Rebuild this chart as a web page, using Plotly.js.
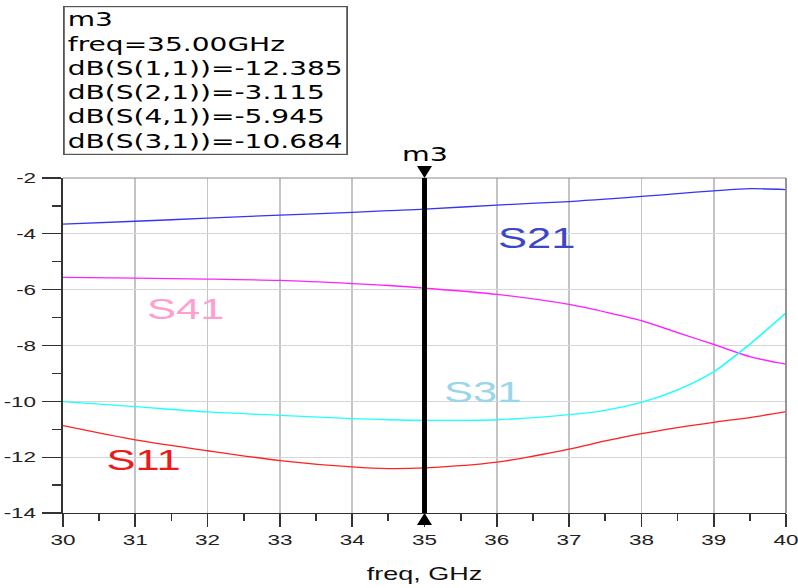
<!DOCTYPE html>
<html>
<head>
<meta charset="utf-8">
<script src="https://cdn.plot.ly/plotly-3.0.1.min.js"></script>
<style>
  html, body { margin: 0; padding: 0; background: #fff; overflow: hidden; }
  #wrap { width: 798px; height: 588px; overflow: hidden; }
  #chart { width: 532px; height: 588px; transform: scaleX(1.5); transform-origin: 0 0; }
</style>
</head>
<body>
<div id="wrap"><div id="chart"></div></div>
<script>
// ---- data ----
const freq = [30, 31, 32, 33, 34, 34.5, 35, 36, 37, 37.5, 38, 38.5, 39, 39.5, 40];
const s21  = [-3.655, -3.55, -3.44, -3.33, -3.23, -3.17, -3.115, -2.97, -2.845, -2.76, -2.66, -2.56, -2.46, -2.38, -2.415];
const s41  = [-5.56, -5.59, -5.62, -5.67, -5.78, -5.85, -5.945, -6.17, -6.53, -6.80, -7.11, -7.54, -7.96, -8.40, -8.67];
const s31  = [-10.01, -10.19, -10.38, -10.50, -10.62, -10.66, -10.684, -10.66, -10.48, -10.32, -10.04, -9.59, -8.94, -7.95, -6.83];
const s11  = [-10.87, -11.38, -11.77, -12.12, -12.35, -12.41, -12.385, -12.18, -11.71, -11.42, -11.16, -10.94, -10.75, -10.58, -10.37];
const seriesNames = ['S21', 'S41', 'S31', 'S11'];
const markerName = 'm3';
const markerFreq = 35.00;
const markerLines = ['dB(S(1,1))=-12.385', 'dB(S(2,1))=-3.115', 'dB(S(4,1))=-5.945', 'dB(S(3,1))=-10.684'];
const xTicks = [30, 31, 32, 33, 34, 35, 36, 37, 38, 39, 40];
const yTicks = [-14, -12, -10, -8, -6, -4, -2];

const FONT = 'Liberation Sans, Arial, sans-serif';
const BOXFONT = 'DejaVu Sans, Liberation Sans, sans-serif';

function line(y, color, name) {
  return { x: freq, y: y, name: name, type: 'scatter', mode: 'lines',
           line: { color: color, width: 1.3, shape: 'spline', smoothing: 0.8 },
           hoverinfo: 'skip' };
}

const traces = [
  line(s21, '#3535f5', seriesNames[0]),
  line(s41, '#ff22ff', seriesNames[1]),
  line(s31, '#22ffff', seriesNames[2]),
  line(s11, '#ff2424', seriesNames[3])
];

const yMin = yTicks[0], yMax = yTicks[yTicks.length - 1];

const layout = {
  width: 532, height: 588,
  margin: { l: 41.7, r: 8.3, t: 177.7, b: 74.7 },
  paper_bgcolor: '#fff', plot_bgcolor: '#fff',
  showlegend: false,
  font: { family: FONT, color: '#222' },
  xaxis: {
    range: [xTicks[0], xTicks[xTicks.length - 1]],
    tickvals: xTicks, ticktext: xTicks.map(String),
    showgrid: true, gridcolor: '#c4c4c4', gridwidth: 1.2,
    showline: true, linecolor: '#333', linewidth: 1.2,
    ticks: 'outside', ticklen: 13, tickwidth: 1.2, tickcolor: '#333',
    ticklabeloverflow: 'allow',
    tickfont: { family: FONT, size: 15, color: '#222' },
    minor: { dtick: 0.5, tick0: 30, ticks: 'outside', ticklen: 7, tickwidth: 1.2, tickcolor: '#333', showgrid: false },
    zeroline: false,
    title: { text: 'freq, GHz', font: { family: FONT, size: 18, color: '#111' }, standoff: 20 }
  },
  yaxis: {
    range: [yMin, yMax],
    tickvals: yTicks, ticktext: yTicks.map(String),
    showgrid: true, gridcolor: '#d6d6d6', gridwidth: 1.2,
    showline: true, linecolor: '#333', linewidth: 1.2,
    ticks: 'outside', ticklen: 12.7, tickwidth: 1.2, tickcolor: '#333',
    ticklabelstandoff: 1,
    tickfont: { family: FONT, size: 15, color: '#222' },
    minor: { dtick: 1, tick0: -14, ticks: 'outside', ticklen: 6, tickwidth: 1.2, tickcolor: '#333', showgrid: false },
    zeroline: false
  },
  shapes: [
    // top and right frame edges
    { type: 'line', xref: 'paper', yref: 'paper', x0: 0, x1: 1, y0: 1, y1: 1, line: { color: '#8a8a8a', width: 1.2 } },
    { type: 'line', xref: 'paper', yref: 'paper', x0: 1, x1: 1, y0: 0, y1: 1, line: { color: '#8a8a8a', width: 1.2 } },
    // marker line
    { type: 'line', xref: 'x', yref: 'y', x0: markerFreq, x1: markerFreq, y0: yMin, y1: yMax, line: { color: '#000', width: 3.3 } },
    { type: 'path', xref: 'x', yref: 'paper', xsizemode: 'pixel', ysizemode: 'pixel', xanchor: markerFreq, yanchor: 1,
      path: 'M-5,12 L5,12 L0,0 Z', fillcolor: '#000', line: { width: 0 } },
    { type: 'path', xref: 'x', yref: 'paper', xsizemode: 'pixel', ysizemode: 'pixel', xanchor: markerFreq, yanchor: 0,
      path: 'M-5,-12 L5,-12 L0,0 Z', fillcolor: '#000', line: { width: 0 } }
  ],
  annotations: [
    { xref: 'paper', yref: 'paper', x: 0, y: 1.512, xanchor: 'left', yanchor: 'top', align: 'left', showarrow: false,
      text: [markerName, 'freq=' + markerFreq.toFixed(2) + 'GHz'].concat(markerLines).join('<br>'),
      font: { family: BOXFONT, size: 18.7, color: '#000' },
      bordercolor: '#555', borderwidth: 1.2, borderpad: 2, bgcolor: '#fff' },
    { xref: 'x', yref: 'y', x: markerFreq, y: yMax, yanchor: 'bottom', yshift: 11, showarrow: false,
      text: markerName, font: { family: BOXFONT, size: 19, color: '#000' } },
    { xref: 'x', yref: 'y', x: 36.55, y: -4.16, showarrow: false, text: seriesNames[0], font: { family: FONT, size: 29, color: '#3c46c8' } },
    { xref: 'x', yref: 'y', x: 31.71, y: -6.69, showarrow: false, text: seriesNames[1], font: { family: FONT, size: 29, color: '#ff9fd0' } },
    { xref: 'x', yref: 'y', x: 35.80, y: -9.66, showarrow: false, text: seriesNames[2], font: { family: FONT, size: 29, color: '#9ad6ea' } },
    { xref: 'x', yref: 'y', x: 31.11, y: -12.10, showarrow: false, text: seriesNames[3], font: { family: FONT, size: 29, color: '#ee1a1a' } }
  ]
};

Plotly.newPlot('chart', traces, layout, { staticPlot: true, displayModeBar: false });
</script>
</body>
</html>
